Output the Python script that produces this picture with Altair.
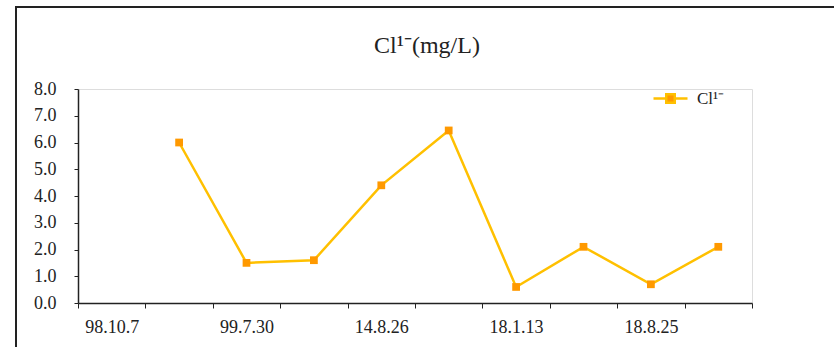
import altair as alt
import pandas as pd
import json

# Data
shown_labels = ["98.10.7", "99.7.30", "14.8.26", "18.1.13", "18.8.25"]  # every other category label
positions = [1, 2, 3, 4, 5, 6, 7, 8, 9]  # category slots (0..9) that carry a value
values = [6.0, 1.5, 1.6, 4.4, 6.45, 0.6, 2.1, 0.7, 2.1]
series_name = "Cl¹⁻"
title_text = "Cl¹⁻(mg/L)"

df = pd.DataFrame({"pos": [p + 0.5 for p in positions], "value": values, "series": series_name})
one = pd.DataFrame({"t": [title_text]})

FONT = "Liberation Serif"
LINE = "#FFC000"
MARK = "#FF9900"
TXT = "#222222"

labels_js = json.dumps(shown_labels)
label_expr = (
    f"(datum.value % 2 == 0 && datum.value < 10) ? {labels_js}[datum.value / 2] : ''"
)

x_enc = alt.X(
    "pos:Q",
    scale=alt.Scale(domain=[0, 10], nice=False, zero=False),
    axis=alt.Axis(
        title=None, values=list(range(11)), labelExpr=label_expr, labelOffset=33.7,
        labelFlush=False, labelOverlap=False, grid=False, ticks=True, tickSize=5,
        labelPadding=10, domainColor=TXT, tickColor=TXT, domainWidth=1.5,
        labelFont=FONT, labelFontSize=18, labelColor=TXT,
    ),
)
y_enc = alt.Y(
    "value:Q",
    scale=alt.Scale(domain=[0, 8], nice=False),
    axis=alt.Axis(
        title=None, values=[0, 1, 2, 3, 4, 5, 6, 7, 8], format=".1f", grid=False,
        tickSize=4, labelPadding=18, domainColor=TXT, tickColor=TXT,
        domainWidth=1.5, labelFont=FONT, labelFontSize=18, labelColor=TXT,
    ),
)

color_enc = alt.Color(
    "series:N",
    scale=alt.Scale(range=[MARK]),
    legend=alt.Legend(
        title=None, orient="none", legendX=574, legendY=-9,
        symbolType="M-1,0H-0.25M0.25,0H1M-0.25,-0.25H0.25V0.25H-0.25Z",
        symbolSize=1156, symbolStrokeColor=LINE, symbolFillColor=MARK,
        symbolStrokeWidth=2.5, labelFont=FONT, labelFontSize=17, labelColor=TXT,
        labelOffset=8, padding=0,
    ),
)

line = alt.Chart(df).mark_line(color=LINE, strokeWidth=2.5).encode(x=x_enc, y=y_enc)
points = alt.Chart(df).mark_square(size=60, opacity=1, filled=True).encode(
    x=x_enc, y=y_enc, color=color_enc
)

frame = alt.Chart(one).mark_rect(fill=None, stroke=TXT, strokeWidth=2).encode(
    x=alt.value(-62), x2=alt.value(900), y=alt.value(-82), y2=alt.value(400)
)

title = alt.Chart(one).mark_text(
    font=FONT, fontSize=24, fontWeight="normal", color=TXT, align="center",
    baseline="alphabetic"
).encode(x=alt.value(349), y=alt.value(-36), text="t:N")

chart = (
    alt.layer(frame, line, points, title)
    .properties(
        width=674, height=214,
        autosize=alt.AutoSizeParams(type="none"),
        padding={"left": 78, "top": 89, "right": 82, "bottom": 44},
    )
    .configure_view(stroke=None)
    .configure(background="white")
)

chart.save("out.html", embed_options={"renderer": "svg", "actions": False})
